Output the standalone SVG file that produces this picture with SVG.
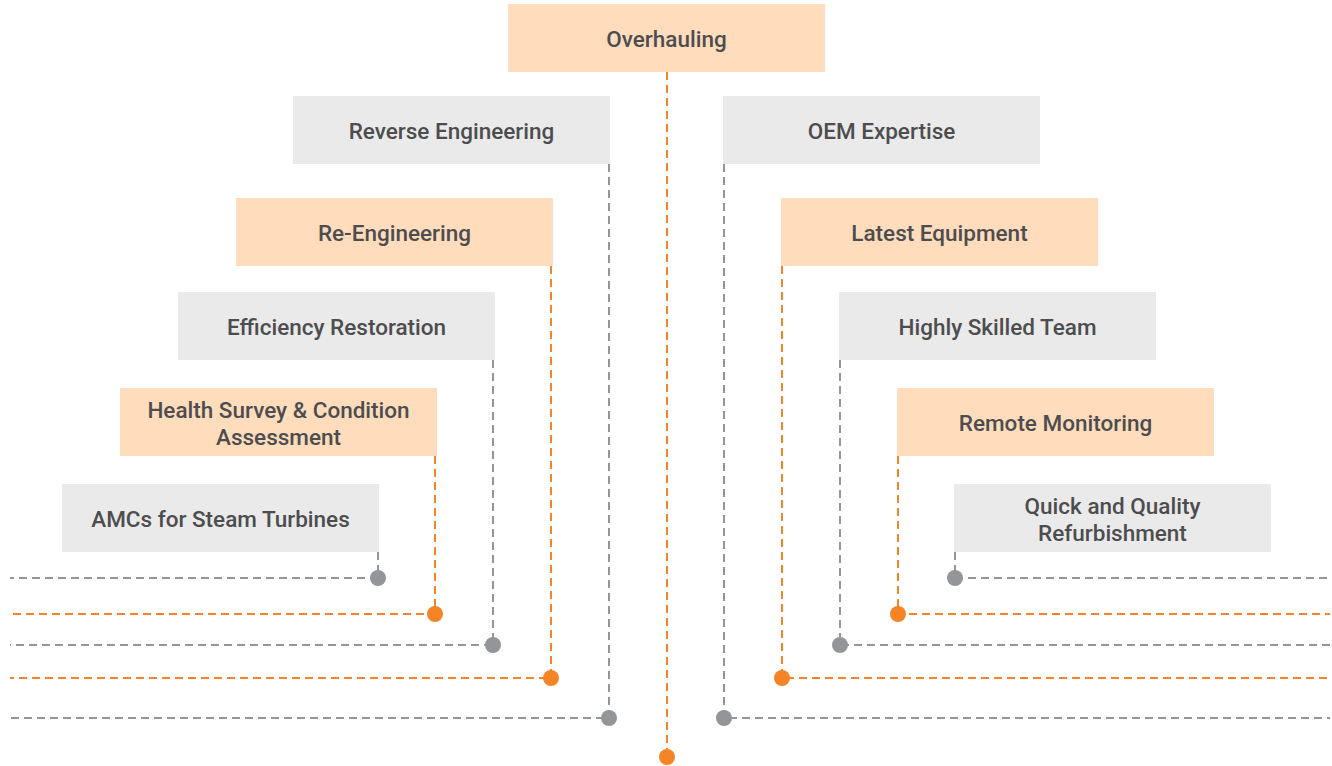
<svg xmlns="http://www.w3.org/2000/svg" width="1332" height="766" viewBox="0 0 1332 766">
<style>
.o{fill:#FFDCBC}
.g{fill:#EAEAEA}
text{font-family:Roboto,"Liberation Sans",sans-serif;font-weight:500;font-size:22.5px;fill:#4D4D4F;text-anchor:middle}
.lo{stroke:#F58426;stroke-width:2;stroke-dasharray:8 5;fill:none}
.lg{stroke:#939598;stroke-width:2;stroke-dasharray:8 5;fill:none}
.do{fill:#F58426}
.dg{fill:#939598}
</style>
<rect width="1332" height="766" fill="#fff"/>
<g id="connectors">
<path class="lo" d="M667 72V757"/>
<path class="lg" d="M609 164V718H10"/>
<path class="lg" d="M724 164V718H1330"/>
<path class="lo" d="M551 266V678H10"/>
<path class="lo" d="M782 266V678H1330"/>
<path class="lg" d="M493 360V645H10"/>
<path class="lg" d="M840 360V645H1330"/>
<path class="lo" d="M435 456V614H10"/>
<path class="lo" d="M898 456V614H1330"/>
<path class="lg" d="M378 552V578H10"/>
<path class="lg" d="M955 552V578H1330"/>
<circle class="do" cx="667" cy="757" r="8"/>
<circle class="dg" cx="609" cy="718" r="8"/>
<circle class="dg" cx="724" cy="718" r="8"/>
<circle class="do" cx="551" cy="678" r="8"/>
<circle class="do" cx="782" cy="678" r="8"/>
<circle class="dg" cx="493" cy="645" r="8"/>
<circle class="dg" cx="840" cy="645" r="8"/>
<circle class="do" cx="435" cy="614" r="8"/>
<circle class="do" cx="898" cy="614" r="8"/>
<circle class="dg" cx="378" cy="578" r="8"/>
<circle class="dg" cx="955" cy="578" r="8"/>
</g>
<g id="overhauling"><rect class="o" x="508" y="4" width="317" height="68"/><text x="666.5" y="47">Overhauling</text></g>
<g id="reverse-engineering"><rect class="g" x="293" y="96" width="317" height="68"/><text x="451.5" y="139">Reverse Engineering</text></g>
<g id="oem-expertise"><rect class="g" x="723" y="96" width="317" height="68"/><text x="881.5" y="139">OEM Expertise</text></g>
<g id="re-engineering"><rect class="o" x="236" y="198" width="317" height="68"/><text x="394.5" y="241">Re-Engineering</text></g>
<g id="latest-equipment"><rect class="o" x="781" y="198" width="317" height="68"/><text x="939.5" y="241">Latest Equipment</text></g>
<g id="efficiency-restoration"><rect class="g" x="178" y="292" width="317" height="68"/><text x="336.5" y="335">Efficiency Restoration</text></g>
<g id="highly-skilled-team"><rect class="g" x="839" y="292" width="317" height="68"/><text x="997.5" y="335">Highly Skilled Team</text></g>
<g id="health-survey"><rect class="o" x="120" y="388" width="317" height="68"/><text x="278.5" y="418">Health Survey &amp; Condition</text><text x="278.5" y="445">Assessment</text></g>
<g id="remote-monitoring"><rect class="o" x="897" y="388" width="317" height="68"/><text x="1055.5" y="431">Remote Monitoring</text></g>
<g id="amcs"><rect class="g" x="62" y="484" width="317" height="68"/><text x="220.5" y="527">AMCs for Steam Turbines</text></g>
<g id="quick-quality"><rect class="g" x="954" y="484" width="317" height="68"/><text x="1112.5" y="514">Quick and Quality</text><text x="1112.5" y="541">Refurbishment</text></g>
</svg>
